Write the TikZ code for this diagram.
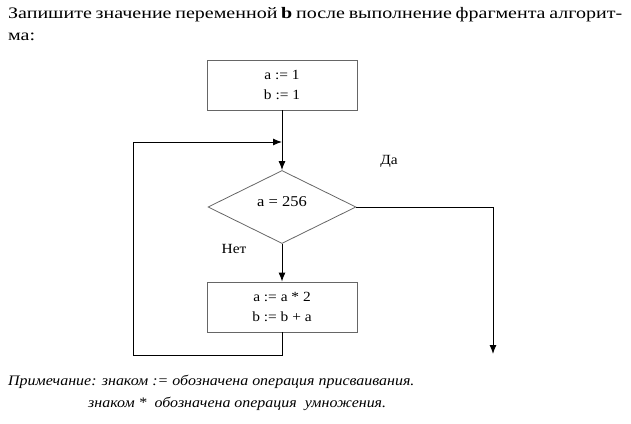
\documentclass[tikz,border=0pt]{standalone}
\usepackage{fontspec}
\setmainfont{Liberation Serif}[FakeStretch=1.1]
\newfontfamily\titlefont{Liberation Serif}[FakeStretch=1.25]
\usetikzlibrary{arrows.meta,shapes.geometric}
\begin{document}
\begin{tikzpicture}[x=1pt,y=-1pt,
  blk/.style={draw=black!60, line width=0.8pt, minimum width=150pt, minimum height=50pt, inner sep=0pt, align=center, font=\fontsize{14}{20}\selectfont},
  lbl/.style={inner sep=0pt, font=\fontsize{14}{15}\selectfont},
  conn/.style={line width=1pt, black},
  arr/.style={conn, -{Latex[length=9pt,width=7pt]}},
  txt/.style={inner sep=0pt, anchor=west, font=\titlefont\fontsize{16}{18}\selectfont},
  note/.style={inner sep=0pt, anchor=west, font=\fontsize{14.5}{18}\selectfont\itshape}]
\useasboundingbox (0,0) rectangle (631,423);
\node[txt] (t1) at (8,15) {\makebox[614pt][s]{Запишите значение переменной \textbf{b} после выполнение фрагмента алгорит-}};
\node[txt] (t2) at (8,37) {ма:};
\node[blk] (init) at (282,85) {a := 1\\b := 1};
\node[draw=black!60, line width=0.8pt, minimum width=148pt, minimum height=73pt, diamond, inner sep=0pt] (cond) at (282,207) {};
\node[lbl] (condtxt) at (282,202) {\fontsize{15}{15}\selectfont a = 256};
\node[blk] (body) at (282,307) {a := a * 2\\b := b + a};
\node[lbl] (yes) at (389,161) {Да};
\node[lbl] (no) at (234,249) {Нет};
\coordinate (loopL1) at (133,355);
\coordinate (loopL2) at (133,142);
\coordinate (loopR) at (282,142);
\coordinate (yesC) at (493,207);
\coordinate (yesE) at (493,354);
\draw[arr] (init.south) -- (cond.north);
\draw[arr] (cond.south) -- (body.north);
\draw[conn] (body.south) |- (loopL1) -- (loopL2);
\draw[arr] (loopL2) -- (loopR);
\draw[arr] (cond.east) -- (yesC) -- (yesE);
\node[note] (n1) at (8,382) {Примечание: знаком := обозначена операция присваивания.};
\node[note] (n2) at (88,404) {знаком *\ \ обозначена операция\ \ умножения.};
\end{tikzpicture}
\end{document}
